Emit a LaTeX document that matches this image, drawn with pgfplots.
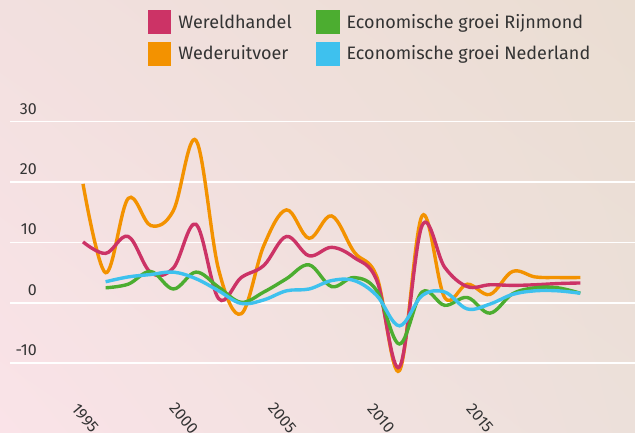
\documentclass[border=0pt]{standalone}
\usepackage{pgfplots}
\pgfplotsset{compat=1.18}
\usetikzlibrary{shadings}
\usepackage{fontspec}
\setmainfont{Fira Sans}

\definecolor{wrd}{RGB}{204,51,102}
\definecolor{wuv}{RGB}{243,146,0}
\definecolor{rijn}{RGB}{76,173,48}
\definecolor{ned}{RGB}{62,193,238}
\definecolor{txt}{RGB}{51,51,51}
\definecolor{bgtl}{RGB}{242,224,223}
\definecolor{bgtr}{RGB}{234,221,210}
\definecolor{bgbl}{RGB}{250,227,232}
\definecolor{bgbr}{RGB}{236,224,218}

\begin{document}
\begin{tikzpicture}
\shade[upper left=bgtl, upper right=bgtr, lower left=bgbl, lower right=bgbr]
  (0pt,0pt) rectangle (635pt,433pt);

\begin{axis}[
  at={(10pt,69.7pt)}, anchor=south west,
  width=625pt, height=241.6pt, scale only axis,
  xmin=1991.77, xmax=2019.42, ymin=-10, ymax=30,
  clip=false,
  axis line style={draw=none},
  major tick length=0pt,
  ymajorgrids, grid style={white, line width=1.6pt},
  ytick={-10,0,10,20,30}, yticklabels={-10,0,10,20,30},
  xtick={1995,1999.37,2003.73,2008.10,2012.47},
  xticklabels={1995,2000,2005,2010,2015},
  tick label style={font=\fontsize{16}{19}\selectfont, text=txt},
  yticklabel style={anchor=east, inner sep=0pt, xshift=27pt, yshift=13pt},
  xticklabel style={yshift=-55pt, xshift=2pt, rotate=-50, anchor=center, inner sep=0pt},
  legend image code/.code={\fill[#1] (0pt,-10.25pt) rectangle (20.5pt,10.25pt);},
  legend cell align=left,
  legend columns=2,
  legend style={at={(axis description cs:0.2197,1.4623)}, anchor=north west,
    draw=none, fill=none, inner sep=0pt,
    font=\fontsize{18}{21}\selectfont, text=txt,
    row sep=7.5pt,
    /tikz/every odd column/.append style={column sep=5pt},
    /tikz/every even column/.append style={column sep=22pt}},
  every axis plot/.append style={line width=3.4pt, smooth, tension=0.6, forget plot},
]
% Wederuitvoer
\addplot[wuv] coordinates {(1995,19.7) (1996,5) (1997,17.3) (1998,12.8) (1999,15.3) (2000,26.9) (2001,5.5) (2002,-1.8) (2003,9.5) (2004,15.4) (2005,10.7) (2006,14.4) (2007,8.4) (2008,4.3) (2009,-11.2) (2010,14.4) (2011,0.9) (2012,3.1) (2013,1.4) (2014,5.2) (2015,4.3) (2016,4.2) (2017,4.2)};
% Wereldhandel
\addplot[wrd] coordinates {(1995,10.1) (1996,8.2) (1997,11) (1998,5.0) (1999,5.8) (2000,13) (2001,0.7) (2002,4.2) (2003,6.2) (2004,11) (2005,7.8) (2006,9.2) (2007,7.5) (2008,3.7) (2009,-10.6) (2010,12.8) (2011,5.9) (2012,2.7) (2013,3.0) (2014,2.9) (2015,3.0) (2016,3.2) (2017,3.3)};
% Economische groei Rijnmond
\addplot[rijn] coordinates {(1996,2.5) (1997,3.1) (1998,5.2) (1999,2.3) (2000,5.1) (2001,2.6) (2002,0.1) (2003,1.8) (2004,4.0) (2005,6.3) (2006,2.7) (2007,4.2) (2008,2.0) (2009,-6.8) (2010,1.8) (2011,-0.4) (2012,0.9) (2013,-1.7) (2014,1.5) (2015,2.5) (2016,2.5) (2017,1.6)};
% Economische groei Nederland
\addplot[ned] coordinates {(1996,3.5) (1997,4.3) (1998,4.7) (1999,5.1) (2000,4.0) (2001,2.0) (2002,-0.1) (2003,0.5) (2004,2.0) (2005,2.3) (2006,3.7) (2007,3.7) (2008,1.2) (2009,-3.8) (2010,1.2) (2011,1.8) (2012,-1.0) (2013,-0.2) (2014,1.4) (2015,2.0) (2016,2.0) (2017,1.6)};

\addlegendimage{wrd}\addlegendentry{Wereldhandel}
\addlegendimage{rijn}\addlegendentry{Economische groei Rijnmond}
\addlegendimage{wuv}\addlegendentry{Wederuitvoer}
\addlegendimage{ned}\addlegendentry{Economische groei Nederland}
\end{axis}

\pgfresetboundingbox
\useasboundingbox (0pt,0pt) rectangle (635pt,433pt);
\end{tikzpicture}
\end{document}
